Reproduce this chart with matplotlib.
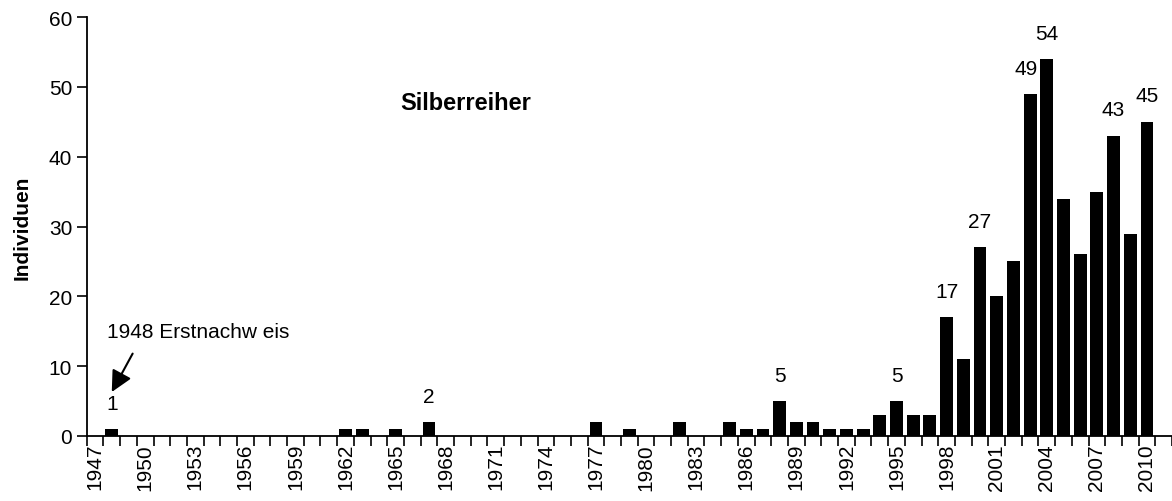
import numpy as np
import matplotlib.pyplot as plt

plt.rcParams['font.family'] = ['Liberation Sans', 'DejaVu Sans']

years = list(range(1947, 2011))
counts = [0, 1, 0, 0, 0, 0, 0, 0, 0, 0, 0, 0, 0, 0, 0,   # 1947-1961
          1, 1, 0, 1, 0, 2,                                # 1962-1967
          0, 0, 0, 0, 0, 0, 0, 0, 0,                       # 1968-1976
          2, 0, 1, 0, 0, 2, 0, 0, 2, 1, 1, 5,              # 1977-1988
          2, 2, 1, 1, 1, 3, 5, 3, 3,                       # 1989-1997
          17, 11, 27, 20, 25, 49, 54, 34, 26, 35, 43, 29, 45]  # 1998-2010
labelled = [1948, 1967, 1988, 1995, 1998, 2000, 2003, 2004, 2008, 2010]
tick_years = list(range(1947, 2011, 3))

fig = plt.figure(figsize=(11.72, 5.02), dpi=100)
ax = fig.add_axes([0.074, 0.1295, 0.926, 0.8345])

ax.bar(years, counts, width=0.77, color='black')

for y, c in zip(years, counts):
    if y in labelled:
        dx = -0.25 if y == 2003 else 0
        ax.text(y + dx, c + 3.7, str(c), ha='center', va='center', fontsize=15)

ax.annotate('', xy=(1948, 6.3), xytext=(1949.25, 11.8),
            arrowprops=dict(arrowstyle='-|>', color='black', lw=1.5,
                            mutation_scale=32, shrinkA=0, shrinkB=0))
ax.text(1947.7, 14.9, '1948 Erstnachw eis', ha='left', va='center', fontsize=15)
ax.text(1969.2, 47.7, 'Silberreiher', ha='center', va='center',
        fontsize=17, fontweight='bold')

ax.set_xlim(1946.5, 2011.5)
ax.set_ylim(0, 60)
ax.set_yticks(range(0, 61, 10))
ax.set_xticks(tick_years)
ax.set_xticklabels([str(t) for t in tick_years], rotation=90)
ax.set_xticks(np.arange(1946.5, 2012, 1), minor=True)
ax.tick_params(axis='x', which='major', length=0, pad=5, labelsize=15)
ax.tick_params(axis='x', which='minor', length=7, width=1.2, direction='out')
ax.tick_params(axis='y', length=7, width=1.2, direction='out', labelsize=15)
ax.set_ylabel('Individuen', fontsize=15, fontweight='bold', labelpad=12)

for s in ['top', 'right']:
    ax.spines[s].set_visible(False)
for s in ['left', 'bottom']:
    ax.spines[s].set_linewidth(1.3)

fig.savefig('out.png', dpi=100)
